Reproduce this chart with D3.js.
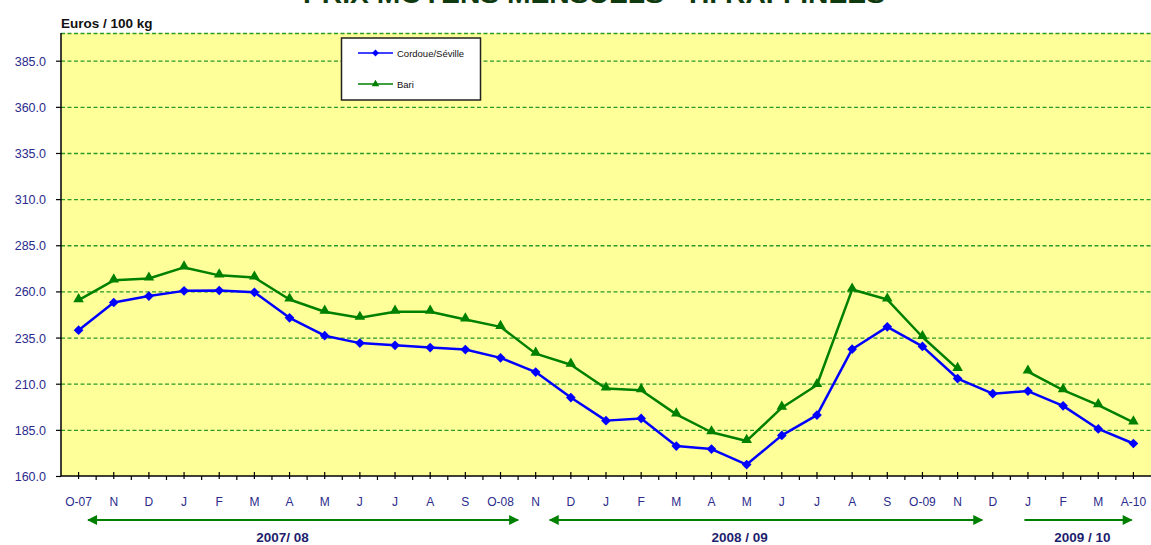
<!DOCTYPE html>
<html>
<head>
<meta charset="utf-8">
<script src="https://cdn.jsdelivr.net/npm/d3@7"></script>
<style>
  html, body { margin: 0; padding: 0; background: #ffffff; }
  svg { display: block; font-family: "Liberation Sans", Arial, sans-serif; }
</style>
</head>
<body>
<svg id="chart" width="1151" height="545"></svg>
<script>
// ---------- DATA ----------
const months = ["O-07","N","D","J","F","M","A","M","J","J","A","S","O-08","N","D","J","F","M","A","M","J","J","A","S","O-09","N","D","J","F","M","A-10"];
const cordoueSeville = [239, 254, 257.5, 260.3, 260.5, 259.5, 245.7, 236, 232, 230.8, 229.6, 228.5, 224, 216.3, 202.5, 190, 191.2, 176.2, 174.6, 166.2, 182, 193, 228.7, 240.8, 230.2, 212.8, 204.6, 206, 198, 185.5, 177.6];
const bari = [255.3, 266, 267, 273, 268.7, 267.5, 255.6, 249, 245.7, 249, 249, 244.8, 240.8, 226.3, 220.3, 207.4, 206.5, 193.4, 183.7, 179, 197, 209.3, 261, 255.6, 235.3, 218, null, 216.6, 206.5, 198.4, 189];
const seriesNames = ["Cordoue/Séville", "Bari"];
const yTicks = [160, 185, 210, 235, 260, 285, 310, 335, 360, 385];
const yDomain = [160, 400];
const periodLabels = ["2007/ 08", "2008 / 09", "2009 / 10"];
const periodStart = [0.27, 13.4, 26.9];      // month index
const periodEnd = [12.5, 25.7, 29.95];       // month index
const periodLabelAt = [5.8, 18.8, 28.55];    // month index
const periodStartHead = [true, true, false];
const titleText = "PRIX MOYENS MENSUELS - H. RAFFINEES";
const unitText = "Euros / 100 kg";

// ---------- LAYOUT ----------
const svg = d3.select("#chart");
const plot = { left: 61, right: 1151, top: 33, bottom: 476 };
const blue = "#0000ff", green = "#008000", navy = "#2b2b8c", gridGreen = "#2a9a2a";

const x = d3.scaleBand().domain(d3.range(months.length)).range([plot.left, plot.right]).padding(0);
const cx = i => x(i) + x.bandwidth() / 2;
const xi = v => plot.left + x.bandwidth() * (v + 0.5); // fractional month index -> px (band centre)
const y = d3.scaleLinear().domain(yDomain).range([plot.bottom, plot.top]);

// Title (mostly clipped at top, as in the reference)
svg.append("text")
  .attr("x", 303).attr("y", 3)
  .attr("textLength", 582).attr("lengthAdjust", "spacingAndGlyphs")
  .attr("font-size", 26).attr("font-weight", "bold").attr("fill", "#0f3a0f")
  .text(titleText);

// Unit label
svg.append("text").attr("x", 61).attr("y", 28)
  .attr("font-size", 13.5).attr("font-weight", "bold").attr("fill", "#111")
  .text(unitText);

// Plot background
svg.append("rect").attr("x", plot.left).attr("y", plot.top)
  .attr("width", plot.right - plot.left).attr("height", plot.bottom - plot.top)
  .attr("fill", "#ffff99");

// Gridlines
svg.append("g").selectAll("line").data(yTicks.filter(t => t > yDomain[0]).concat([yDomain[1]]))
  .join("line")
  .attr("x1", plot.left).attr("x2", plot.right)
  .attr("y1", d => y(d) + 0.5).attr("y2", d => y(d) + 0.5)
  .attr("stroke", gridGreen).attr("stroke-width", 1.3).attr("stroke-dasharray", "4,2.5");

// Y axis
const yAxis = d3.axisLeft(y).tickValues(yTicks).tickFormat(d3.format(".1f")).tickSize(5).tickPadding(10);
const gy = svg.append("g").attr("transform", `translate(${plot.left},0)`).call(yAxis);
gy.select(".domain").attr("stroke", "#000").attr("stroke-width", 1.5).attr("d", `M0,${plot.top}V${plot.bottom}`);
gy.selectAll(".tick line").attr("stroke", "#000").attr("stroke-width", 1.2);
gy.selectAll(".tick text").attr("font-size", 12.5).attr("fill", navy).attr("font-family", "Liberation Sans, Arial").attr("dy", "0.36em");

// X axis
const xAxis = d3.axisBottom(x).tickFormat(i => months[i]).tickSize(0).tickPadding(21);
const gx = svg.append("g").attr("transform", `translate(0,${plot.bottom})`).call(xAxis);
gx.select(".domain").attr("stroke", "#000").attr("stroke-width", 1.5).attr("d", `M${plot.left},0H${plot.right}`);
gx.selectAll(".tick text").attr("font-size", 12).attr("fill", navy).attr("font-family", "Liberation Sans, Arial");
gx.selectAll(".tick").append("line").attr("y1", -4).attr("y2", 3).attr("stroke", "#000").attr("stroke-width", 1.2);
svg.append("g").selectAll("line").data(d3.range(1, months.length))
  .join("line")
  .attr("x1", i => x(i)).attr("x2", i => x(i))
  .attr("y1", plot.bottom).attr("y2", plot.bottom + 4)
  .attr("stroke", "#000").attr("stroke-width", 1.2);

// Lines
const line = d3.line().defined(d => d != null).x((d, i) => cx(i)).y(d => y(d));
const seriesData = [cordoueSeville, bari];
const seriesColors = [blue, green];
seriesData.forEach((s, k) => {
  svg.append("path").datum(s).attr("d", line)
    .attr("fill", "none").attr("stroke", seriesColors[k]).attr("stroke-width", 2.5)
    .attr("stroke-linejoin", "round");
});

const diamond = d3.symbol().type(d3.symbolDiamond2).size(60);
const triangle = d3.symbol().type(d3.symbolTriangle2).size(80);
svg.append("g").selectAll("path").data(cordoueSeville.map((v, i) => ({ v, i })).filter(d => d.v != null))
  .join("path").attr("d", diamond)
  .attr("transform", d => `translate(${cx(d.i)},${y(d.v)})`)
  .attr("fill", blue);
svg.append("g").selectAll("path").data(bari.map((v, i) => ({ v, i })).filter(d => d.v != null))
  .join("path").attr("d", triangle)
  .attr("transform", d => `translate(${cx(d.i)},${y(d.v) - 1})`)
  .attr("fill", green);

// Legend
const lg = svg.append("g");
lg.append("rect").attr("x", 341.5).attr("y", 38).attr("width", 139).attr("height", 62)
  .attr("fill", "#fff").attr("stroke", "#222").attr("stroke-width", 1.5);
const legY = [53, 84];
const legSymbols = [d3.symbol().type(d3.symbolDiamond2).size(30), d3.symbol().type(d3.symbolTriangle2).size(40)];
seriesNames.forEach((n, k) => {
  lg.append("line").attr("x1", 358).attr("x2", 393).attr("y1", legY[k]).attr("y2", legY[k])
    .attr("stroke", seriesColors[k]).attr("stroke-width", 1.5);
  lg.append("path").attr("d", legSymbols[k]())
    .attr("transform", `translate(375.5,${legY[k]})`).attr("fill", seriesColors[k]);
  lg.append("text").attr("x", 397).attr("y", legY[k] + 3.5)
    .attr("font-size", 9.5).attr("fill", "#111").text(n);
});

// Period arrows
const defs = svg.append("defs");
defs.append("marker").attr("id", "ah").attr("viewBox", "0 0 10 10").attr("refX", 9).attr("refY", 5)
  .attr("markerWidth", 5.5).attr("markerHeight", 5).attr("markerUnits", "strokeWidth").attr("orient", "auto-start-reverse")
  .append("path").attr("d", "M0,0L10,5L0,10Z").attr("fill", green);
const arrowY = 520;
periodLabels.forEach((lab, k) => {
  svg.append("line")
    .attr("x1", xi(periodStart[k])).attr("x2", xi(periodEnd[k]))
    .attr("y1", arrowY).attr("y2", arrowY)
    .attr("stroke", green).attr("stroke-width", 2)
    .attr("marker-end", "url(#ah)")
    .attr("marker-start", periodStartHead[k] ? "url(#ah)" : null);
  svg.append("text").attr("x", xi(periodLabelAt[k])).attr("y", 542)
    .attr("text-anchor", "middle").attr("font-size", 13.5).attr("font-weight", "bold")
    .attr("fill", "#1f1f6e").text(lab);
});
</script>
</body>
</html>
